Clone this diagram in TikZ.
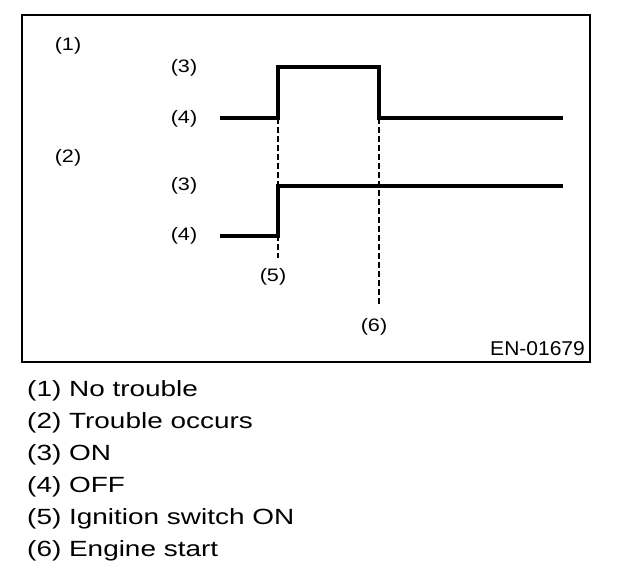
\documentclass[tikz,border=0pt]{standalone}
\usepackage{fontspec}
\setmainfont{Liberation Sans}
\begin{document}
\begin{tikzpicture}[x=1pt,y=-1pt,
  lbl/.style={inner sep=0pt,font=\fontsize{18}{20}\selectfont},
  legend/.style={inner sep=0pt,anchor=base west,font=\fontsize{22}{26}\selectfont},
  signal/.style={line width=3.5pt,line join=miter},
  guide/.style={line width=1.5pt,dash pattern=on 6pt off 3pt},
  frame/.style={line width=2pt}]
\useasboundingbox (0,0) rectangle (624,578);
\draw[frame] (22,15) rectangle (590,362);
% labels
\node[lbl] (l1) at (68,46) {\scalebox{1.2}[1]{(1)}};
\node[lbl] (l3a) at (184,68) {\scalebox{1.2}[1]{(3)}};
\node[lbl] (l4a) at (184,119) {\scalebox{1.2}[1]{(4)}};
\node[lbl] (l2) at (68,158) {\scalebox{1.2}[1]{(2)}};
\node[lbl] (l3b) at (184,186) {\scalebox{1.2}[1]{(3)}};
\node[lbl] (l4b) at (184,236) {\scalebox{1.2}[1]{(4)}};
\node[lbl] (l5) at (273,277) {\scalebox{1.2}[1]{(5)}};
\node[lbl] (l6) at (374,327) {\scalebox{1.2}[1]{(6)}};
\node[inner sep=0pt,anchor=base east,font=\fontsize{20}{22}\selectfont] (en) at (585,355) {\scalebox{1.05}[1]{EN-01679}};
% signal 1
\coordinate (a0) at (220,118);
\coordinate (a1) at (278,118);
\coordinate (a2) at (278,67);
\coordinate (a3) at (379,67);
\coordinate (a4) at (379,118);
\coordinate (a5) at (563,118);
\draw[signal] (a0) -- (a1) -- (a2) -- (a3) -- (a4) -- (a5);
% signal 2
\coordinate (b0) at (220,236);
\coordinate (b1) at (278,236);
\coordinate (b2) at (278,186);
\coordinate (b3) at (563,186);
\draw[signal] (b0) -- (b1) -- (b2) -- (b3);
% guides
\coordinate (g5) at (278,258);
\coordinate (g6) at (379,304);
\draw[guide] (a1) -- (g5);
\draw[guide] (a4) -- (g6);
% legend
\node[legend] (t1) at (27,396) {\scalebox{1.27}[1]{(1) No trouble}};
\node[legend] (t2) at (27,428) {\scalebox{1.27}[1]{(2) Trouble occurs}};
\node[legend] (t3) at (27,460) {\scalebox{1.27}[1]{(3) ON}};
\node[legend] (t4) at (27,492) {\scalebox{1.27}[1]{(4) OFF}};
\node[legend] (t5) at (27,524) {\scalebox{1.27}[1]{(5) Ignition switch ON}};
\node[legend] (t6) at (27,556) {\scalebox{1.27}[1]{(6) Engine start}};
\end{tikzpicture}
\end{document}
